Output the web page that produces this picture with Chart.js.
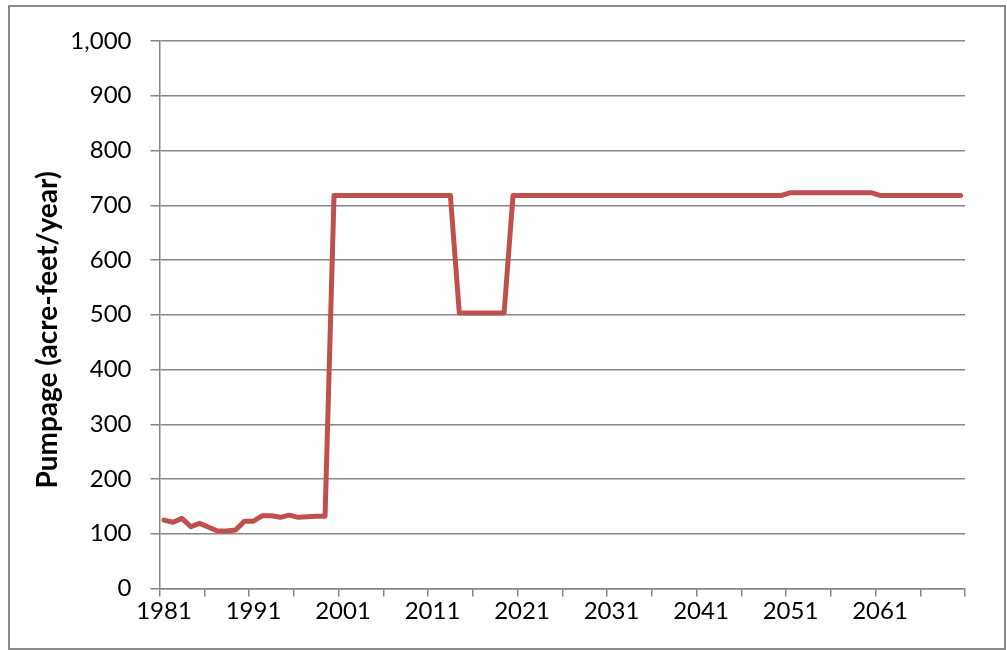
<!DOCTYPE html>
<html>
<head>
<meta charset="utf-8">
<title>Pumpage</title>
<script src="https://cdn.jsdelivr.net/npm/chart.js@4.4.1/dist/chart.umd.min.js"></script>
<style>
  html, body { margin: 0; padding: 0; background: #fff; }
  #frame {
    position: absolute; left: 8px; top: 5px;
    width: 994px; height: 641px;
    border: 2px solid #8a8a8a;
  }
  #chart { position: absolute; left: 0; top: 0; }
</style>
</head>
<body>
<div id="frame"></div>
<canvas id="chart" width="1007" height="650"></canvas>
<script>
// categories: 1981 .. 2070
const YEARS = Array.from({ length: 90 }, (_, i) => String(1981 + i));

// pumpage, acre-feet/year
const PUMPAGE = [
  125, 121, 128, 113, 119, 112, 105, 105, 107, 123,   // 1981-1990
  123, 133, 133, 130, 134, 130, 131, 132, 132, 718,   // 1991-2000
  718, 718, 718, 718, 718, 718, 718, 718, 718, 718,   // 2001-2010
  718, 718, 718, 503, 503, 503, 503, 503, 503, 718,   // 2011-2020
  718, 718, 718, 718, 718, 718, 718, 718, 718, 718,   // 2021-2030
  718, 718, 718, 718, 718, 718, 718, 718, 718, 718,   // 2031-2040
  718, 718, 718, 718, 718, 718, 718, 718, 718, 718,   // 2041-2050
  723, 723, 723, 723, 723, 723, 723, 723, 723, 723,   // 2051-2060
  718, 718, 718, 718, 718, 718, 718, 718, 718, 718    // 2061-2070
];

const Y_MIN = 0;
const Y_MAX = 1000;
const Y_STEP = 100;
const Y_TITLE = 'Pumpage (acre-feet/year)';

const GRID = '#868686';
const LINE = '#C0504D';
const FONT = 'Lato, "Open Sans", sans-serif';

// y title sits a bit below the plot centre in the original, so draw it by hand
const yTitlePlugin = {
  id: 'yTitle',
  afterDraw(chart) {
    const ctx = chart.ctx;
    ctx.save();
    ctx.translate(47.5, 330);
    ctx.rotate(-Math.PI / 2);
    ctx.font = 'bold 28px ' + FONT;
    ctx.fillStyle = '#000';
    ctx.textAlign = 'center';
    ctx.textBaseline = 'middle';
    ctx.fillText(Y_TITLE, 0, 0);
    ctx.restore();
  }
};

new Chart(document.getElementById('chart'), {
  type: 'line',
  data: {
    labels: YEARS,
    datasets: [{
      data: PUMPAGE,
      borderColor: LINE,
      borderWidth: 5,
      borderJoinStyle: 'round',
      borderCapStyle: 'round',
      pointRadius: 0,
      tension: 0,
      fill: false
    }]
  },
  options: {
    responsive: false,
    animation: false,
    devicePixelRatio: 1,
    layout: { padding: { left: 0, top: 41, right: 42, bottom: 21.5 } },
    plugins: { legend: { display: false }, tooltip: { enabled: false } },
    scales: {
      x: {
        type: 'category',
        offset: true,
        afterFit(scale) { scale.height = 40; },
        grid: {
          offset: true,
          drawOnChartArea: false,
          tickLength: 8,
          lineWidth: 1.5,
          tickColor: (c) => (c.index === undefined || c.index % 5 === 0) ? GRID : 'rgba(0,0,0,0)'
        },
        border: { color: GRID, width: 1.5 },
        ticks: {
          autoSkip: false,
          maxRotation: 0,
          minRotation: 0,
          padding: 0,
          color: '#000',
          font: { family: FONT, size: 24 },
          callback(val, i) { return i % 10 === 0 ? YEARS[i] : ''; }
        }
      },
      y: {
        min: Y_MIN,
        max: Y_MAX,
        afterFit(scale) { scale.width = 159.5; },
        grid: { color: GRID, lineWidth: 1.5, tickLength: 9 },
        border: { color: GRID, width: 1.5 },
        ticks: {
          stepSize: Y_STEP,
          padding: 19,
          color: '#000',
          font: { family: FONT, size: 24 },
          callback(v) { return v.toLocaleString('en-US'); }
        }
      }
    }
  },
  plugins: [yTitlePlugin]
});
</script>
</body>
</html>
